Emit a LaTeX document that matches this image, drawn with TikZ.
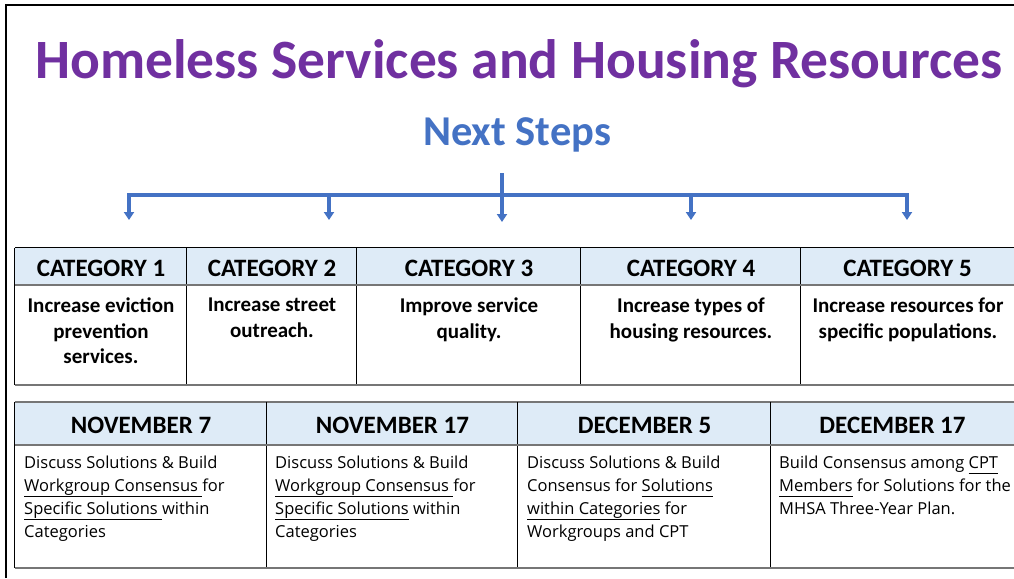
\documentclass[tikz,border=0pt]{standalone}
\usepackage{fontspec}
\setmainfont{Carlito}
\newfontfamily\notefont{Open Sans}
\usepackage{xcolor}
\usetikzlibrary{arrows.meta}
\definecolor{titlepurple}{HTML}{7030A0}
\definecolor{stepblue}{HTML}{4472C4}
\definecolor{headfill}{HTML}{DEEBF7}
\definecolor{rulegray}{HTML}{767676}
\newcommand{\uln}[1]{{\setbox0\hbox{#1}\rlap{\rule[-5.5pt]{\wd0}{1.4pt}}\box0}}

\begin{document}
\begin{tikzpicture}[x=1pt, y=-1pt,
  cathead/.style={fill=headfill, inner sep=0pt, minimum height=37, text height=19pt, text depth=0pt, font=\bfseries\fontsize{25}{30}\selectfont},
  datehead/.style={fill=headfill, inner sep=0pt, minimum height=43, text height=19pt, text depth=0pt, font=\bfseries\fontsize{25}{30}\selectfont},
  catbody/.style={anchor=north, align=center, inner sep=0pt, font=\bfseries\fontsize{21}{25.5}\selectfont},
  datebody/.style={anchor=north west, align=left, inner sep=0pt, font=\notefont\fontsize{16.5}{23}\selectfont},
  arr/.style={stepblue, line width=3.5pt, -{Triangle[width=10pt,length=8pt]}},
  grid/.style={black, line width=0.9pt},
  rule/.style={rulegray, line width=1.8pt}]
\useasboundingbox (0,0) rectangle (1014,578);

% frame
\draw[line width=2pt] (6,578) -- (6,5) -- (1014,5);

% titles
\node at (519,78) [anchor=base, text=titlepurple, font=\bfseries\fontsize{55.5}{60}\selectfont] (title) {Homeless Services and Housing Resources};
\node at (517,145) [anchor=base, text=stepblue, font=\bfseries\fontsize{42.5}{48}\selectfont] (next) {Next Steps};

% arrows
\coordinate (stem) at (502,173);
\coordinate (hub) at (502,195);
\coordinate (tip1) at (129,220);
\coordinate (tip2) at (329,220);
\coordinate (tip3) at (502,222);
\coordinate (tip4) at (691,220);
\coordinate (tip5) at (907,220);
\draw [arr] (hub) -| (tip1);
\draw [arr] (hub) -| (tip5);
\draw [arr] (stem) -- (tip3);
\draw [arr] (tip2 |- hub) -- (tip2);
\draw [arr] (tip4 |- hub) -- (tip4);

% categories
\node at (101,266.5) [cathead, minimum width=172] (cat1) {CATEGORY 1};
\node at (272,266.5) [cathead, minimum width=170] (cat2) {CATEGORY 2};
\node at (469,266.5) [cathead, minimum width=224] (cat3) {CATEGORY 3};
\node at (691,266.5) [cathead, minimum width=220] (cat4) {CATEGORY 4};
\node at (907.5,266.5) [cathead, minimum width=213] (cat5) {CATEGORY 5};
\node at (101,298) [catbody] (goal1) {Increase eviction\\prevention\\services.};
\node at (272,298) [catbody] (goal2) {Increase street\\outreach.};
\node at (469,298) [catbody] (goal3) {Improve service\\quality.};
\node at (691,298) [catbody] (goal4) {Increase types of\\housing resources.};
\node at (908,298) [catbody] (goal5) {Increase resources for\\specific populations.};
\coordinate (catbot) at (0,385);

\draw [grid] (cat1.north west) -- (cat5.north east);
\draw [grid] (cat1.north west) -- (cat1.north west |- catbot);
\draw [grid] (cat2.north west) -- (cat2.north west |- catbot);
\draw [grid] (cat3.north west) -- (cat3.north west |- catbot);
\draw [grid] (cat4.north west) -- (cat4.north west |- catbot);
\draw [grid] (cat5.north west) -- (cat5.north west |- catbot);
\draw [rule] (cat1.south west) -- (cat5.south east);
\draw [rule] (cat1.south west |- catbot) -- (cat5.south east |- catbot);

% dates
\node at (141,423.5) [datehead, minimum width=252] (nov7) {NOVEMBER 7};
\node at (392.5,423.5) [datehead, minimum width=251] (nov17) {NOVEMBER 17};
\node at (644.5,423.5) [datehead, minimum width=253] (dec5) {DECEMBER 5};
\node at (892.5,423.5) [datehead, minimum width=243] (dec17) {DECEMBER 17};
\node at (24,456) [datebody] (task1) {Discuss Solutions \& Build\\\uln{Workgroup Consensus }for\\\uln{Specific Solutions }within\\Categories};
\node at (275,456) [datebody] (task2) {Discuss Solutions \& Build\\\uln{Workgroup Consensus }for\\\uln{Specific Solutions} within\\Categories};
\node at (527,456) [datebody] (task3) {Discuss Solutions \& Build\\Consensus for \uln{Solutions}\\\uln{within Categories} for\\Workgroups and CPT};
\node at (779,456) [datebody] (task4) {Build Consensus among \uln{CPT}\\\uln{Members} for Solutions for the\\MHSA Three-Year Plan.};
\coordinate (datebot) at (0,568);

\draw [rule] (nov7.north west) -- (dec17.north east);
\draw [grid] (nov7.north west) -- (nov7.north west |- datebot);
\draw [grid] (nov17.north west) -- (nov17.north west |- datebot);
\draw [grid] (dec5.north west) -- (dec5.north west |- datebot);
\draw [grid] (dec17.north west) -- (dec17.north west |- datebot);
\draw [rule] (nov7.south west) -- (dec17.south east);
\draw [rule] (nov7.south west |- datebot) -- (dec17.south east |- datebot);
\end{tikzpicture}
\end{document}
